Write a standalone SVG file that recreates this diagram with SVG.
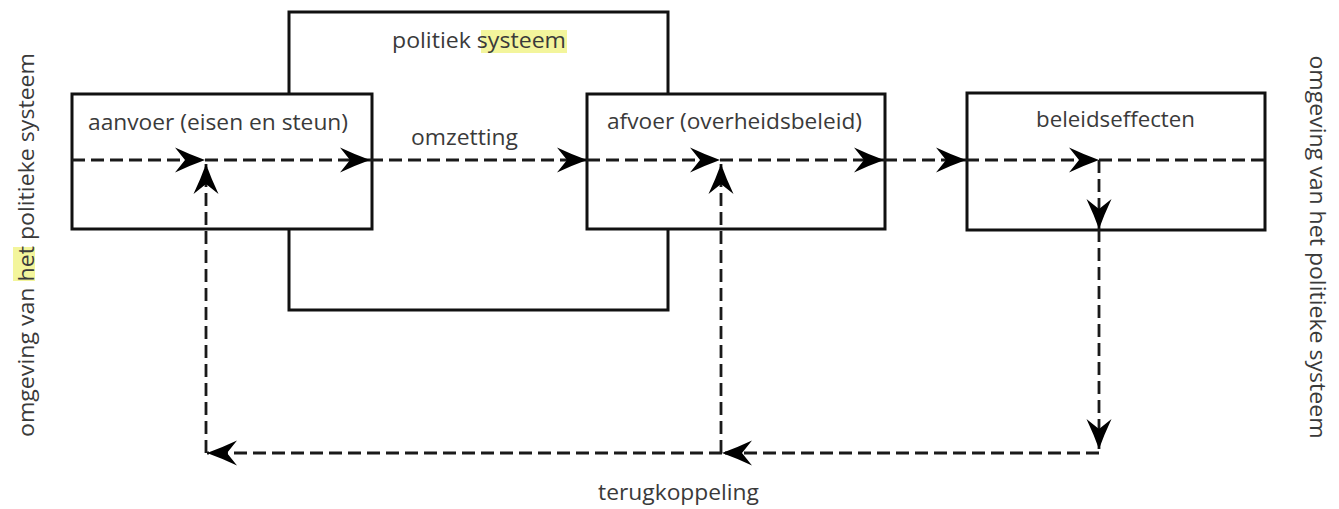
<svg xmlns="http://www.w3.org/2000/svg" width="1339" height="509" viewBox="0 0 1339 509">
<style>
.box{fill:#fff;stroke:#111;stroke-width:3}
.sys{fill:none;stroke:#111;stroke-width:3}
.dash{fill:none;stroke:#1a1a1a;stroke-width:2.8;stroke-dasharray:13 6}
.lbl{font-family:"Open Sans","Noto Sans",sans-serif;font-size:21px;fill:#3a3a3a}
.hl{fill:#f3f59c}
</style>
<defs>
<marker id="ah" viewBox="-32 -14 34 28" refX="0" refY="0" markerWidth="34" markerHeight="28" markerUnits="userSpaceOnUse" orient="auto">
<path d="M0,0 Q-14,-5 -30,-12.5 L-20,0 L-30,12.5 Q-14,5 0,0 Z" fill="#000"/>
</marker>
</defs>
<rect x="0" y="0" width="1339" height="509" fill="#fff"/>
<g id="politiek-systeem">
<rect class="sys" x="289" y="12" width="379" height="298"/>
<rect class="hl" x="481" y="30" width="86" height="23"/>
<text class="lbl" x="479" y="48" text-anchor="middle" textLength="174" lengthAdjust="spacingAndGlyphs">politiek systeem</text>
</g>
<g id="aanvoer">
<rect class="box" x="72" y="94" width="300" height="135"/>
<text class="lbl" x="88" y="130" textLength="260" lengthAdjust="spacingAndGlyphs">aanvoer (eisen en steun)</text>
</g>
<g id="afvoer">
<rect class="box" x="587" y="94" width="298" height="135"/>
<text class="lbl" x="607" y="129" textLength="255" lengthAdjust="spacingAndGlyphs">afvoer (overheidsbeleid)</text>
</g>
<g id="beleidseffecten">
<rect class="box" x="967" y="93" width="298" height="137"/>
<text class="lbl" x="1036" y="127" textLength="159" lengthAdjust="spacingAndGlyphs">beleidseffecten</text>
</g>
<g id="connectors">
<path class="dash" d="M72,160 H205" marker-end="url(#ah)"/>
<path class="dash" d="M205,160 H370" marker-end="url(#ah)"/>
<path class="dash" d="M370,160 H587" marker-end="url(#ah)"/>
<path class="dash" d="M587,160 H720" marker-end="url(#ah)"/>
<path class="dash" d="M720,160 H884" marker-end="url(#ah)"/>
<path class="dash" d="M884,160 H966" marker-end="url(#ah)"/>
<path class="dash" d="M966,160 H1099" marker-end="url(#ah)"/>
<path class="dash" d="M1099,160 H1265"/>
<path class="dash" d="M206,453 V164" marker-end="url(#ah)"/>
<path class="dash" d="M721,453 V164" marker-end="url(#ah)"/>
<path class="dash" d="M1099,160 V229" marker-end="url(#ah)"/>
<path class="dash" d="M1099,229 V449" marker-end="url(#ah)"/>
<path class="dash" d="M1099,453 H722" marker-end="url(#ah)"/>
<path class="dash" d="M722,453 H207" marker-end="url(#ah)"/>
</g>
<g id="labels">
<text class="lbl" x="411" y="145" textLength="107" lengthAdjust="spacingAndGlyphs">omzetting</text>
<text class="lbl" x="598" y="500" textLength="161" lengthAdjust="spacingAndGlyphs">terugkoppeling</text>
</g>
<g id="omgeving-links">
<rect class="hl" x="13" y="247" width="22" height="34"/>
<text class="lbl" transform="translate(34,245) rotate(-90)" text-anchor="middle" textLength="384" lengthAdjust="spacingAndGlyphs">omgeving van het politieke systeem</text>
</g>
<g id="omgeving-rechts">
<text class="lbl" transform="translate(1310,247) rotate(90)" text-anchor="middle" textLength="383" lengthAdjust="spacingAndGlyphs">omgeving van het politieke systeem</text>
</g>
</svg>
